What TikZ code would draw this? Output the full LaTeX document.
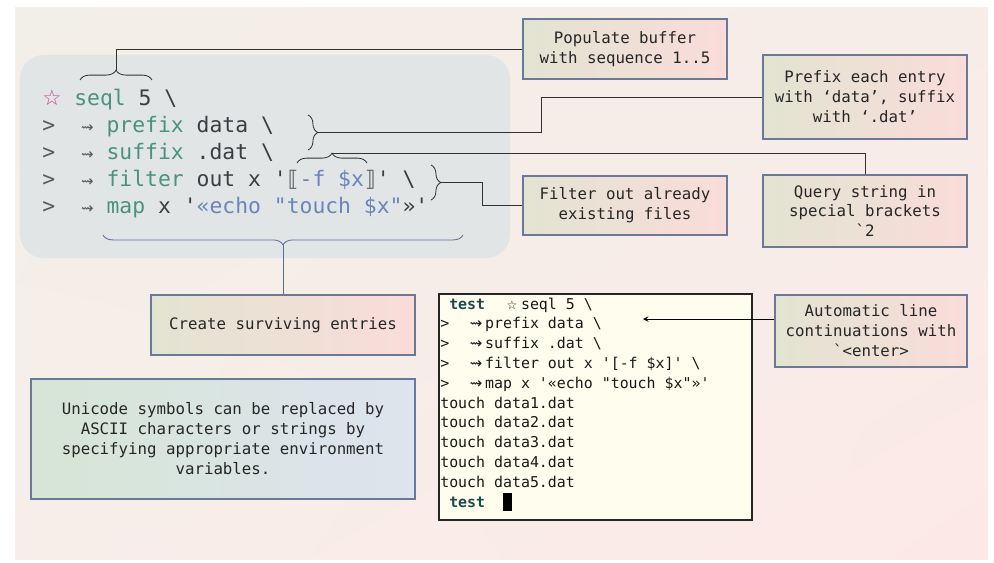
\documentclass[tikz,border=0pt]{standalone}
\usepackage{fontspec}
\setmonofont{DejaVu Sans Mono}
\newfontfamily\symf{DejaVu Sans}
\usetikzlibrary{decorations.pathreplacing,shadings}
\definecolor{bgTL}{RGB}{242,239,231}
\definecolor{bgTR}{RGB}{247,237,232}
\definecolor{bgBL}{RGB}{247,238,234}
\definecolor{bgBR}{RGB}{252,233,231}
\definecolor{codebg}{RGB}{226,229,230}
\definecolor{kw}{RGB}{72,146,126}
\definecolor{txt}{RGB}{58,62,66}
\definecolor{gt}{RGB}{85,88,92}
\definecolor{str}{RGB}{102,134,188}
\definecolor{starpink}{RGB}{196,72,140}
\definecolor{edge}{RGB}{104,122,152}
\definecolor{noteL}{RGB}{226,228,210}
\definecolor{noteR}{RGB}{250,220,217}
\definecolor{uniL}{RGB}{214,229,214}
\definecolor{uniR}{RGB}{221,228,238}
\definecolor{termbg}{RGB}{254,253,238}
\definecolor{termtest}{RGB}{30,75,80}
\definecolor{bluelink}{RGB}{88,110,150}
\newcommand{\wv}{\makebox[0.602em]{\symf\scalebox{0.7}{⇝}}}
\newcommand{\lbr}{\makebox[0.602em]{\symf ⟦}}
\newcommand{\rbr}{\makebox[0.602em]{\symf ⟧}}
\newcommand{\twv}{\makebox[1.204em]{\symf ⇝}}
\newcommand{\tstar}{\makebox[1.204em]{\symf\scalebox{0.8}{☆}}}
\newcommand{\bsl}{\textbackslash}
\begin{document}
\begin{tikzpicture}[x=0.025cm,y=-0.025cm,>=stealth,
	note/.style={draw=edge,line width=0.8pt,left color=noteL,right color=noteR,align=center,inner sep=0pt,font=\fontsize{11.2}{14.2}\selectfont\ttfamily,text=black!85},
	code/.style={anchor=base west,inner sep=0pt,text=txt,font=\fontsize{15.2}{19}\selectfont\ttfamily},
	term/.style={anchor=base west,inner sep=0pt,text=black!90,font=\fontsize{10.6}{14}\selectfont\ttfamily},
	brc/.style={decorate,decoration={brace,amplitude=7pt},draw=black!80,line width=0.6pt},
	link/.style={draw=black!80,line width=0.7pt}]
		\useasboundingbox (0,0) rectangle (994,562);
		\fill[white] (0,0) rectangle (994,562);
		\shade[upper left=bgTL,upper right=bgTR,lower left=bgBL,lower right=bgBR] (15,7) rectangle (988,559);
		% code block
		\node[fill=codebg,rounded corners=0.6cm,minimum width=12.25cm,minimum height=5.075cm] (codeblock) at (265,156.5) {};
		\node[code] (c1) at (42,105) {\makebox[0.8cm][l]{\color{starpink}\symf ☆}{\color{kw}seql} 5 \bsl};
		\node[code] (c2) at (42,132) {{\color{gt}>\ \ \wv}\ {\color{kw}prefix} data \bsl};
		\node[code] (c3) at (42,159) {{\color{gt}>\ \ \wv}\ {\color{kw}suffix} .dat \bsl};
		\node[code] (c4) at (42,186) {{\color{gt}>\ \ \wv}\ {\color{kw}filter} out x '{\color{gt}\lbr}{\color{str}-f \$x}{\color{gt}\rbr}' \bsl};
		\node[code] (c5) at (42,213) {{\color{gt}>\ \ \wv}\ {\color{kw}map} x '{\color{str}«echo "touch \$x"}»'};
		% braces
		\coordinate (seqtip) at (116,70);
		\coordinate (pretip) at (318,132.5);
		\coordinate (qtip) at (332,153);
		\coordinate (filtip) at (441,182.5);
		\coordinate (alltip) at (283,245);
		\draw[brc] (80,80) -- (152,80);
		\draw[brc] (308,115) -- (308,150);
		\draw[brc] (297,163) -- (367,163);
		\draw[brc] (431,165) -- (431,200);
		\draw[brc,draw=bluelink] (463,235) -- (103,235);
		% callouts
		\node[note,minimum width=5.1cm,minimum height=1.5cm] (populate) at (625,49) {Populate buffer\\with sequence 1..5};
		\node[note,minimum width=5.1cm,minimum height=2.1cm] (prefixnote) at (865,97) {Prefix each entry\\with ‘data’, suffix\\with ‘.dat’};
		\node[note,minimum width=5.1cm,minimum height=1.475cm] (filternote) at (625,205.5) {Filter out already\\existing files};
		\node[note,minimum width=5.1cm,minimum height=1.8cm] (querynote) at (865,211) {Query string in\\special brackets\\`2};
		\node[note,minimum width=6.6cm,minimum height=1.5cm] (createnote) at (283,325) {Create surviving entries};
		\node[note,left color=uniL,right color=uniR,minimum width=9.6cm,minimum height=3cm] (uninote) at (223,439) {Unicode symbols can be replaced by\\ASCII characters or strings by\\specifying appropriate environment\\variables.};
		\node[note,minimum width=4.8cm,minimum height=1.8cm] (autonote) at (871,331) {Automatic line\\continuations with\\`<enter>};
		\draw[link] (seqtip) |- (populate.west);
		\draw[link] (pretip) -- ++(223,0) |- (prefixnote.west);
		\draw[link] (qtip) -| (querynote.north);
		\draw[link] (filtip) -- ++(41,0) |- (filternote.west);
		\draw[link,draw=bluelink] (alltip) -- (createnote.north);
		% terminal
		\node[draw=black!85,fill=termbg,line width=0.9pt,minimum width=7.825cm,minimum height=5.65cm] (terminal) at (595.5,407) {};
		\node[term] (t1) at (440,309) {\ {\bfseries\color{termtest}test}\ \ \tstar seql 5 \bsl};
		\node[term] (t2) at (440,328.8) {>\ \ \twv prefix data \bsl};
		\node[term] (t3) at (440,348.6) {>\ \ \twv suffix .dat \bsl};
		\node[term] (t4) at (440,368.4) {>\ \ \twv filter out x '[-f \$x]' \bsl};
		\node[term] (t5) at (440,388.2) {>\ \ \twv map x '«echo "touch \$x"»'};
		\foreach \i in {1,...,5}\node[term] (touch\i) at (440,{388.2+19.8*\i}) {touch data\i.dat};
		\node[term] (t11) at (440,507) {\ {\bfseries\color{termtest}test}};
		\fill[black] (503,493) rectangle (512,511);
		\coordinate (autotip) at (643,319);
		\draw[->,line width=0.7pt] (autonote.west |- autotip) -- (autotip);
\end{tikzpicture}
\end{document}
